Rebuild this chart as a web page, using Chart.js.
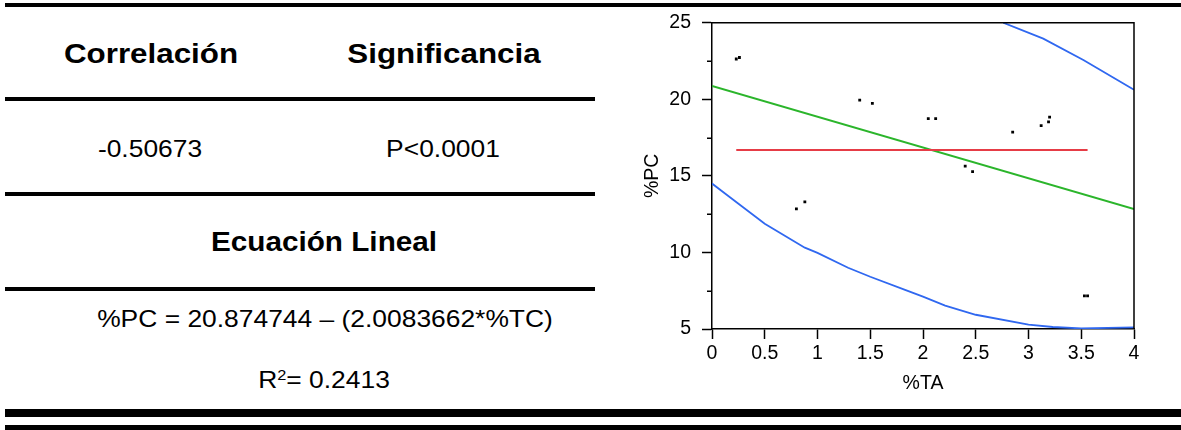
<!DOCTYPE html>
<html><head><meta charset="utf-8">
<script src="https://cdn.jsdelivr.net/npm/chart.js@4/dist/chart.umd.min.js"></script>
<style>
html,body{margin:0;padding:0;background:#fff;}
body{width:1181px;height:430px;position:relative;overflow:hidden;font-family:"Liberation Sans",Arial,sans-serif;color:#000;}
.ln{position:absolute;background:#000;}
.t{position:absolute;line-height:1;white-space:nowrap;transform:translateX(-50%) scaleX(1.1);}
.b{font-weight:bold;}
sup{font-size:0.62em;vertical-align:0.55em;line-height:0;}
#c{position:absolute;left:640px;top:0;}
</style></head><body>
<canvas id="c" width="541" height="400"></canvas>
<div class="ln" style="left:5px;top:3px;width:1176px;height:4px"></div>
<div class="ln" style="left:5px;top:97px;width:590px;height:4px"></div>
<div class="ln" style="left:5px;top:192px;width:590px;height:4px"></div>
<div class="ln" style="left:5px;top:287px;width:590px;height:4px"></div>
<div class="ln" style="left:5px;top:409px;width:1176px;height:8px"></div>
<div class="ln" style="left:5px;top:425px;width:1176px;height:5px"></div>
<div class="t b" style="left:150.5px;top:38.5px;font-size:28.5px">Correlación</div>
<div class="t b" style="left:444px;top:38.5px;font-size:28.5px">Significancia</div>
<div class="t" style="left:150px;top:136.7px;font-size:24px">-0.50673</div>
<div class="t" style="left:442.5px;top:136.7px;font-size:24px">P&lt;0.0001</div>
<div class="t b" style="left:324px;top:229px;font-size:27px">Ecuación Lineal</div>
<div class="t" style="left:324.5px;top:306.7px;font-size:24px">%PC = 20.874744 – (2.0083662*%TC)</div>
<div class="t" style="left:323.7px;top:368.2px;font-size:24px">R<sup>2</sup>= 0.2413</div>
<script>
// Scatter observations (%TA, %PC)
const ptX = [0.23, 0.26, 0.80, 0.88, 1.40, 1.52, 2.05, 2.12, 2.40, 2.47, 2.85, 3.12, 3.19, 3.20, 3.53, 3.56];
const ptY = [22.63, 22.73, 12.84, 13.30, 19.94, 19.73, 18.74, 18.74, 15.63, 15.28, 17.85, 18.28, 18.52, 18.84, 7.16, 7.16];
// Regression line (green)
const regX = [0, 4];
const regY = [20.87, 12.84];
// Mean line (red)
const meanX = [0.23, 3.56];
const meanY = [16.68, 16.68];
// Lower band (blue)
const lowX = [0, 0.17, 0.5, 0.88, 1.0, 1.29, 1.5, 1.83, 2.0, 2.21, 2.5, 3.0, 3.23, 3.5, 4.0];
const lowY = [14.5, 13.6, 11.87, 10.31, 9.97, 9.0, 8.41, 7.55, 7.11, 6.53, 5.93, 5.28, 5.13, 5.04, 5.10];
// Upper band (blue)
const upX = [2.76, 3.14, 3.52, 4.0];
const upY = [25.0, 23.96, 22.56, 20.62];
// Axis ticks
const xRange = [0, 4];
const xStep = 0.5;
const yRange = [5, 25];
const yStep = 5;
const yMinor = [7.5, 12.5, 17.5, 22.5];

const zip = (xs, ys) => xs.map((x, i) => ({x: x, y: ys[i]}));
const FONT = {family: '"Liberation Sans", Arial, sans-serif', size: 19.5};

const frame = {
  id: 'frame',
  afterDatasetsDraw(chart) {
    const ctx = chart.ctx, a = chart.chartArea, y = chart.scales.y;
    ctx.save();
    ctx.strokeStyle = '#000';
    ctx.lineWidth = 1.5;
    ctx.beginPath();
    ctx.moveTo(a.left, a.top);
    ctx.lineTo(a.right, a.top);
    ctx.lineTo(a.right, a.bottom);
    ctx.stroke();
    ctx.beginPath();
    yMinor.forEach(v => {
      const py = Math.round(y.getPixelForValue(v)) + 0.25;
      ctx.moveTo(a.left - 5, py);
      ctx.lineTo(a.left, py);
    });
    ctx.stroke();
    ctx.restore();
  }
};

new Chart(document.getElementById('c'), {
  type: 'scatter',
  data: {
    datasets: [
      {data: zip(lowX, lowY), showLine: true, borderColor: '#3068f0', borderWidth: 1.8, pointRadius: 0, fill: false, tension: 0},
      {data: zip(upX, upY), showLine: true, borderColor: '#3068f0', borderWidth: 1.8, pointRadius: 0, fill: false, tension: 0},
      {data: zip(meanX, meanY), showLine: true, borderColor: '#e63c46', borderWidth: 2, pointRadius: 0, fill: false},
      {data: zip(regX, regY), showLine: true, borderColor: '#2bb52b', borderWidth: 2, pointRadius: 0, fill: false},
      {data: zip(ptX, ptY), showLine: false, pointStyle: 'rect', pointRadius: 2, backgroundColor: '#000', borderColor: '#000', borderWidth: 0}
    ]
  },
  options: {
    responsive: false,
    animation: false,
    devicePixelRatio: 1,
    layout: {padding: {top: 21, right: 47, left: 0, bottom: 0}},
    plugins: {legend: {display: false}, tooltip: {enabled: false}},
    scales: {
      x: {
        type: 'linear', min: xRange[0], max: xRange[1],
        ticks: {stepSize: xStep, color: '#000', font: FONT, padding: 3, maxRotation: 0,
                callback: v => String(v)},
        grid: {drawOnChartArea: false, drawTicks: true, tickLength: 10, tickColor: '#000', tickWidth: 1.5},
        border: {display: true, color: '#000', width: 1.5},
        title: {display: true, text: '%TA', color: '#000', font: FONT, padding: {top: 0, bottom: 5}},
        afterFit: s => { s.height = 71; }
      },
      y: {
        type: 'linear', min: yRange[0], max: yRange[1],
        ticks: {stepSize: yStep, color: '#000', font: FONT, padding: 11, callback: v => String(v)},
        grid: {drawOnChartArea: false, drawTicks: true, tickLength: 10, tickColor: '#000', tickWidth: 1.5},
        border: {display: true, color: '#000', width: 1.5},
        title: {display: true, text: '%PC', color: '#000', font: FONT, padding: {top: 1, bottom: 0}},
        afterFit: s => { s.width = 72; }
      }
    }
  },
  plugins: [frame]
});
</script>
</body></html>
